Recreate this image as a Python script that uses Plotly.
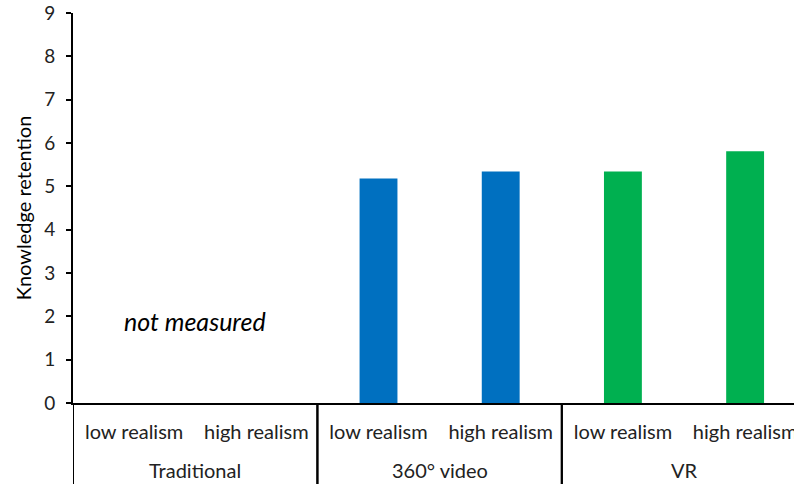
import plotly.graph_objects as go

# Study conditions and knowledge-retention scores
groups = ["Traditional", "Traditional", "360° video", "360° video", "VR", "VR"]
realism = ["low realism", "high realism", "low realism", "high realism", "low realism", "high realism"]
retention = [None, None, 5.18, 5.34, 5.34, 5.81]
bar_colors = ["#0070C0", "#0070C0", "#0070C0", "#0070C0", "#00B050", "#00B050"]
y_ticks = [0, 1, 2, 3, 4, 5, 6, 7, 8, 9]

FONT = "Lato"
TEXT = "#222222"

pos = list(range(len(realism)))

fig = go.Figure(
    go.Bar(
        x=pos,
        y=retention,
        marker=dict(color=bar_colors, line=dict(width=0)),
        width=0.31,
        hovertext=[f"{g}, {r}" for g, r in zip(groups, realism)],
    )
)

# Group labels under the realism labels, with divider lines between groups
group_names = list(dict.fromkeys(groups))
for name in group_names:
    idx = [i for i, g in enumerate(groups) if g == name]
    fig.add_annotation(
        text=name, xref="x", yref="paper",
        x=sum(idx) / len(idx), y=-0.172,
        xanchor="center", yanchor="middle", showarrow=False,
        font=dict(family=FONT, size=20, color=TEXT),
    )
    for edge in (idx[0] - 0.5, idx[-1] + 0.5):
        fig.add_shape(
            type="line", xref="x", yref="paper",
            x0=edge, x1=edge, y0=0, y1=-0.25,
            line=dict(color="#000000", width=2),
        )

fig.add_annotation(
    text="<i>not measured</i>",
    xref="x", yref="y",
    x=0.5, y=1.9,
    xanchor="center", yanchor="middle",
    showarrow=False,
    font=dict(family=FONT, size=25, color="#000000"),
)

fig.update_layout(
    width=794, height=484,
    margin=dict(l=73, r=0, t=13, b=81),
    paper_bgcolor="white", plot_bgcolor="white",
    showlegend=False,
    font=dict(family=FONT, size=20, color=TEXT),
    xaxis=dict(
        range=[-0.5, 5.4], automargin=False,
        tickvals=pos, ticktext=realism,
        showline=True, linecolor="#000000", linewidth=2,
        showgrid=False, zeroline=False,
        ticks="", ticklabelstandoff=10, ticklabeloverflow="allow",
        tickfont=dict(family=FONT, size=20, color=TEXT),
    ),
    yaxis=dict(
        range=[0, 9], tickvals=y_ticks, automargin=False,
        showline=True, linecolor="#000000", linewidth=2,
        ticks="outside", ticklen=5, tickcolor="#000000", tickwidth=1.5,
        ticklabelstandoff=7,
        showgrid=False, zeroline=False,
        tickfont=dict(family=FONT, size=19, color=TEXT),
        title=dict(text="Knowledge retention", font=dict(family=FONT, size=20, color="#000000"), standoff=7),
    ),
)

fig.write_html("out.html")
